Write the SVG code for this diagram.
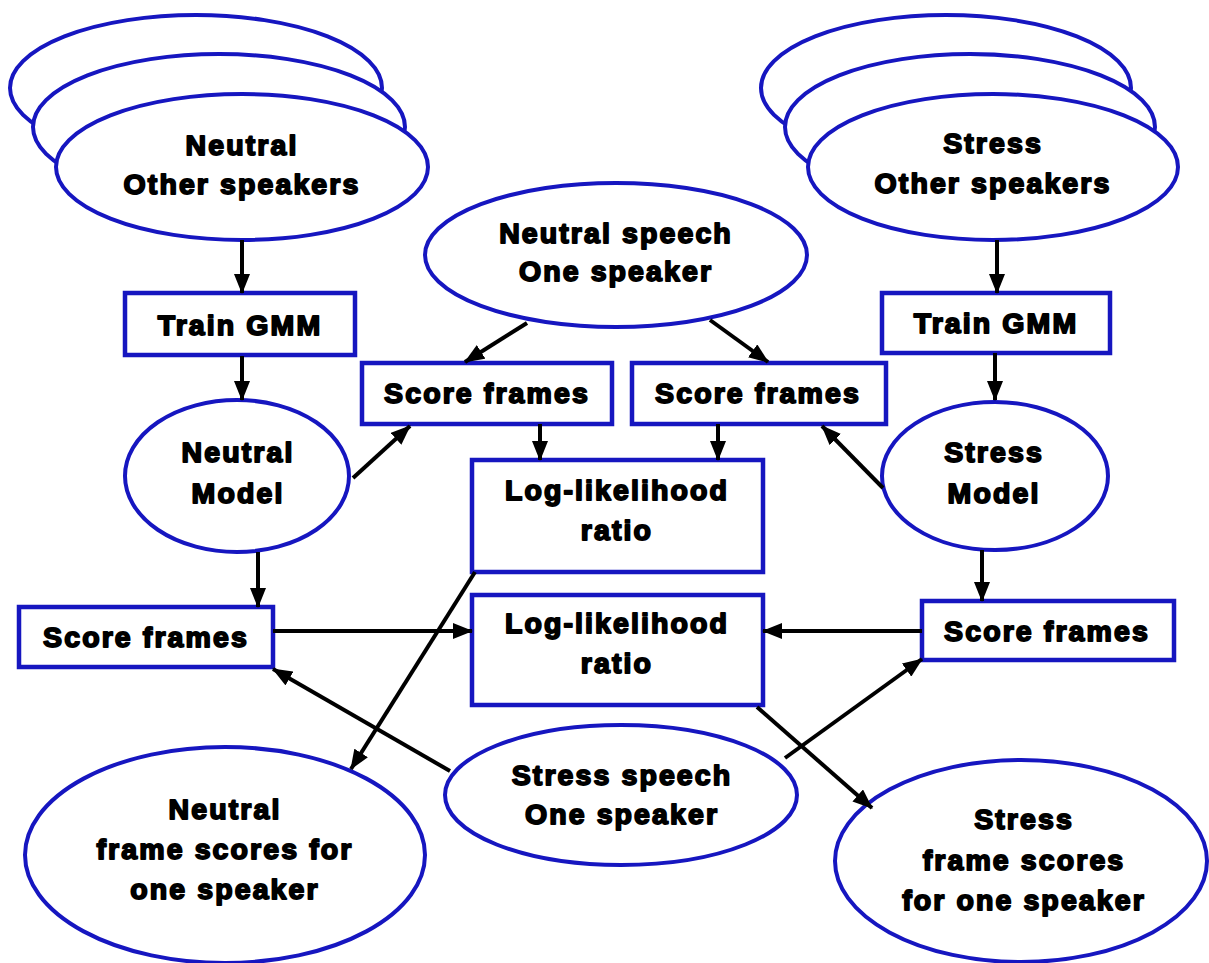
<svg xmlns="http://www.w3.org/2000/svg" width="1209" height="963" viewBox="0 0 1209 963">
<defs>
<style>
.n{fill:#fff;stroke:#1616c0;stroke-width:4}
.b{fill:#fff;stroke:#1616c0;stroke-width:4.5}
.t{font-family:"Liberation Sans",Arial,sans-serif;font-weight:bold;font-size:28.5px;letter-spacing:2.1px;fill:#000;stroke:#000;stroke-width:1.8px;stroke-linejoin:round;text-anchor:middle}
.c{stroke:#000;stroke-width:4;fill:none;marker-end:url(#a)}
</style>
<marker id="a" markerUnits="userSpaceOnUse" markerWidth="20" markerHeight="16" refX="19" refY="8" orient="auto"><path d="M0,0 L20,8 L0,16 z" fill="#000"/></marker>
</defs>
<rect width="1209" height="963" fill="#fff"/>
<g id="neutral-others">
<ellipse class="n" cx="196" cy="88" rx="186" ry="73"/>
<ellipse class="n" cx="219" cy="127" rx="186" ry="73"/>
<ellipse class="n" cx="242" cy="167" rx="186" ry="73"/>
<text class="t" x="242" y="155">Neutral</text>
<text class="t" x="242" y="194">Other speakers</text>
</g>
<g id="stress-others">
<ellipse class="n" cx="946" cy="88" rx="185" ry="73"/>
<ellipse class="n" cx="970" cy="127" rx="185" ry="73"/>
<ellipse class="n" cx="993" cy="167" rx="185" ry="73"/>
<text class="t" x="993" y="153">Stress</text>
<text class="t" x="993" y="193">Other speakers</text>
</g>
<g id="neutral-speech">
<ellipse class="n" cx="616" cy="255" rx="191" ry="72"/>
<text class="t" x="616" y="243">Neutral speech</text>
<text class="t" x="616" y="281">One speaker</text>
</g>
<g id="train-gmm-neutral">
<rect class="b" x="125" y="293" width="230" height="62"/>
<text class="t" x="240" y="335">Train GMM</text>
</g>
<g id="train-gmm-stress">
<rect class="b" x="882" y="293" width="228" height="60"/>
<text class="t" x="996" y="333">Train GMM</text>
</g>
<g id="score-neutral-top">
<rect class="b" x="362" y="363" width="250" height="61"/>
<text class="t" x="487" y="403">Score frames</text>
</g>
<g id="score-stress-top">
<rect class="b" x="632" y="363" width="254" height="61"/>
<text class="t" x="758" y="403">Score frames</text>
</g>
<g id="neutral-model">
<ellipse class="n" cx="237" cy="476" rx="112" ry="76"/>
<text class="t" x="238" y="462">Neutral</text>
<text class="t" x="238" y="503">Model</text>
</g>
<g id="stress-model">
<ellipse class="n" cx="995" cy="476" rx="113" ry="74"/>
<text class="t" x="994" y="462">Stress</text>
<text class="t" x="994" y="503">Model</text>
</g>
<g id="llr-top">
<rect class="b" x="472" y="460" width="291" height="112"/>
<text class="t" x="617" y="500">Log-likelihood</text>
<text class="t" x="617" y="540">ratio</text>
</g>
<g id="llr-bottom">
<rect class="b" x="472" y="595" width="291" height="110"/>
<text class="t" x="617" y="633">Log-likelihood</text>
<text class="t" x="617" y="673">ratio</text>
</g>
<g id="score-neutral-bottom">
<rect class="b" x="19" y="607" width="254" height="60"/>
<text class="t" x="146" y="647">Score frames</text>
</g>
<g id="score-stress-bottom">
<rect class="b" x="922" y="601" width="252" height="59"/>
<text class="t" x="1047" y="641">Score frames</text>
</g>
<g id="stress-speech">
<ellipse class="n" cx="621" cy="795" rx="176" ry="70"/>
<text class="t" x="622" y="785">Stress speech</text>
<text class="t" x="622" y="824">One speaker</text>
</g>
<g id="neutral-frame-scores">
<ellipse class="n" cx="225" cy="855" rx="200" ry="108"/>
<text class="t" x="225" y="819">Neutral</text>
<text class="t" x="225" y="859">frame scores for</text>
<text class="t" x="225" y="899">one speaker</text>
</g>
<g id="stress-frame-scores">
<ellipse class="n" cx="1021" cy="861" rx="186" ry="101"/>
<text class="t" x="1024" y="829">Stress</text>
<text class="t" x="1024" y="870">frame scores</text>
<text class="t" x="1024" y="910">for one speaker</text>
</g>
<g id="connectors">
<line class="c" x1="242" y1="240" x2="242" y2="293"/>
<line class="c" x1="242" y1="356" x2="242" y2="400"/>
<line class="c" x1="997" y1="240" x2="997" y2="293"/>
<line class="c" x1="995" y1="353" x2="995" y2="400"/>
<line class="c" x1="527" y1="323" x2="465" y2="362"/>
<line class="c" x1="710" y1="320" x2="768" y2="362"/>
<line class="c" x1="353" y1="478" x2="410" y2="426"/>
<line class="c" x1="883" y1="488" x2="822" y2="426"/>
<line class="c" x1="540" y1="424" x2="540" y2="460"/>
<line class="c" x1="718" y1="424" x2="718" y2="460"/>
<line class="c" x1="258" y1="552" x2="258" y2="607"/>
<line class="c" x1="982" y1="550" x2="982" y2="601"/>
<line class="c" x1="273" y1="631" x2="472" y2="631"/>
<line class="c" x1="922" y1="631" x2="763" y2="631"/>
<line class="c" x1="475" y1="572" x2="351" y2="769"/>
<line class="c" x1="757" y1="707" x2="872" y2="808"/>
<line class="c" x1="450" y1="771" x2="273" y2="669"/>
<line class="c" x1="785" y1="758" x2="922" y2="659"/>
</g>
</svg>
